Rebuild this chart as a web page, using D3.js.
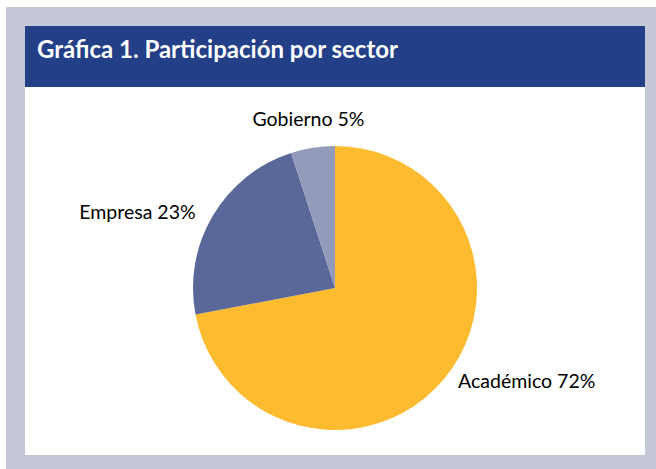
<!DOCTYPE html>
<html><head><meta charset="utf-8">
<script src="https://cdn.jsdelivr.net/npm/d3@7"></script>
<style>html,body{margin:0;padding:0;background:#fff}svg{display:block}</style>
</head><body>
<svg id="c" width="656" height="469"></svg>
<script>
const categories = ["Académico", "Empresa", "Gobierno"];
const values = [72, 23, 5];
const colors = ["#fdbb30", "#5a6899", "#949bba"];
const title = "Gráfica 1. Participación por sector";

const svg = d3.select("#c");
const W = 656, H = 469;
svg.append("rect").attr("x", 6).attr("y", 7).attr("width", W - 6).attr("height", H - 7).attr("fill", "#c3c7d6");
svg.append("rect").attr("x", 25).attr("y", 26).attr("width", 620).attr("height", 429).attr("fill", "#ffffff");
svg.append("rect").attr("x", 25).attr("y", 26).attr("width", 620).attr("height", 61).attr("fill", "#223f88");
svg.append("text").attr("x", 37).attr("y", 58).attr("fill", "#fff")
  .attr("font-family", "Lato, 'Open Sans', sans-serif").attr("font-weight", "bold").attr("font-size", 24)
  .text(title);

const cx = 335, cy = 288, R = 142;
const g = svg.append("g").attr("transform", `translate(${cx},${cy})`);
const data = categories.map((c, i) => ({ name: c, value: values[i], color: colors[i] }));
const pie = d3.pie().sort(null).value(d => d.value);
const arc = d3.arc().innerRadius(0).outerRadius(R);
const arcs = pie(data);
g.selectAll("path").data(arcs).join("path").attr("d", arc).attr("fill", d => d.data.color);

const total = d3.sum(values);
g.selectAll("text.lbl").data(arcs).join("text").attr("class", "lbl")
  .attr("font-family", "Lato, 'Open Sans', sans-serif").attr("font-size", 19.5).attr("fill", "#000")
  .each(function (d) {
    const a = (d.startAngle + d.endAngle) / 2;
    const s = Math.sin(a), c = Math.cos(a);
    let lr = R + 6, x, y, anchor;
    if (Math.abs(s) < 0.3) { lr = R + 28; anchor = "middle"; x = s * lr; y = -c * lr; }
    else { x = s * lr; y = -c * lr; anchor = s > 0 ? "start" : "end"; x += s > 0 ? 9 : -12; }
    d3.select(this).attr("x", x).attr("y", y + 6).attr("text-anchor", anchor)
      .text(`${d.data.name} ${Math.round(d.data.value / total * 100)}%`);
  });
</script>
</body></html>
